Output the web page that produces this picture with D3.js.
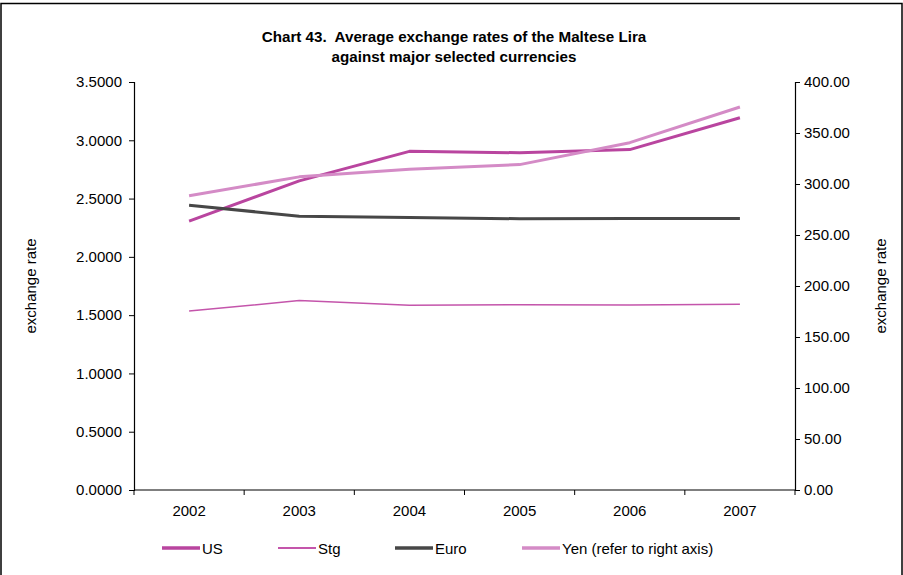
<!DOCTYPE html>
<html>
<head>
<meta charset="utf-8">
<script src="https://cdn.jsdelivr.net/npm/d3@7"></script>
<style>
  body { margin: 0; background: #fff; }
  svg { font-family: "Liberation Sans", Arial, sans-serif; }
</style>
</head>
<body>
<div id="chart"></div>
<script>
// chart values
const years = ["2002", "2003", "2004", "2005", "2006", "2007"];
const usRates = [2.307, 2.652, 2.905, 2.893, 2.920, 3.193];
const stgRates = [1.535, 1.625, 1.585, 1.590, 1.587, 1.593];
const euroRates = [2.443, 2.349, 2.337, 2.327, 2.330, 2.329];
const yenRates = [288.5, 307.0, 314.5, 319.0, 340.5, 375.5];
const leftTicks = [0, 0.5, 1, 1.5, 2, 2.5, 3, 3.5];
const rightTicks = [0, 50, 100, 150, 200, 250, 300, 350, 400];

const series = [
  { name: "US", values: usRates, axis: "left", color: "#b9459f", width: 3 },
  { name: "Stg", values: stgRates, axis: "left", color: "#c455ab", width: 1.5 },
  { name: "Euro", values: euroRates, axis: "left", color: "#474747", width: 3 },
  { name: "Yen (refer to right axis)", values: yenRates, axis: "right", color: "#d48bc6", width: 3 },
];

const config = {
  width: 903,
  height: 575,
  margin: { top: 82, right: 108, bottom: 85, left: 134 },
  fontSize: 15,
};
const innerW = config.width - config.margin.left - config.margin.right;
const innerH = config.height - config.margin.top - config.margin.bottom;

const svg = d3.select("#chart")
  .append("svg")
  .attr("width", config.width)
  .attr("height", config.height);

// outer frame
svg.append("rect")
  .attr("x", 1).attr("y", 3.5)
  .attr("width", 901).attr("height", 600)
  .attr("fill", "none")
  .attr("stroke", "#000")
  .attr("stroke-width", 1.5);

// title
const title = svg.append("text")
  .attr("text-anchor", "middle")
  .attr("font-size", 15.2)
  .attr("font-weight", "bold")
  .attr("fill", "#000")
  .style("white-space", "pre");
title.append("tspan").attr("x", 454).attr("y", 42)
  .text("Chart 43.  Average exchange rates of the Maltese Lira");
title.append("tspan").attr("x", 454).attr("y", 62)
  .text("against major selected currencies");

const chart = svg.append("g")
  .attr("transform", `translate(${config.margin.left},${config.margin.top})`);

const x = d3.scaleBand().domain(years).range([0, innerW]);
const yLeft = d3.scaleLinear().domain([0, 3.5]).range([innerH, 0]);
const yRight = d3.scaleLinear().domain([0, 400]).range([innerH, 0]);

// left axis
const leftAxis = chart.append("g")
  .call(d3.axisLeft(yLeft).tickValues(leftTicks).tickFormat(d3.format(".4f")).tickSize(5).tickPadding(7));

// right axis
const rightAxis = chart.append("g")
  .attr("transform", `translate(${innerW},0)`)
  .call(d3.axisRight(yRight).tickValues(rightTicks).tickFormat(d3.format(".2f")).tickSize(5).tickPadding(4));

// bottom axis: ticks on band edges
const bottomAxis = chart.append("g")
  .attr("transform", `translate(0,${innerH})`)
  .call(d3.axisBottom(x).tickSize(0).tickPadding(15));
bottomAxis.selectAll(".edge")
  .data(d3.range(years.length + 1))
  .join("line")
  .attr("class", "edge")
  .attr("x1", (i) => i * x.step())
  .attr("x2", (i) => i * x.step())
  .attr("y1", 0).attr("y2", 5)
  .attr("stroke", "#000");

[leftAxis, rightAxis, bottomAxis].forEach((a) => {
  a.select(".domain").attr("stroke", "#000").attr("stroke-width", 1.2);
  a.selectAll("text").attr("font-size", config.fontSize).attr("fill", "#000")
    .attr("font-family", "'Liberation Sans', Arial, sans-serif");
  a.selectAll(".tick line").attr("stroke", "#000");
});
bottomAxis.select(".domain").attr("d", `M0,0H${innerW}`);

// axis titles
svg.append("text")
  .attr("transform", `translate(36,${config.margin.top + innerH / 2}) rotate(-90)`)
  .attr("text-anchor", "middle")
  .attr("font-size", config.fontSize)
  .text("exchange rate");
svg.append("text")
  .attr("transform", `translate(886,${config.margin.top + innerH / 2}) rotate(-90)`)
  .attr("text-anchor", "middle")
  .attr("font-size", config.fontSize)
  .text("exchange rate");

// lines
series.forEach((s) => {
  const yScale = s.axis === "left" ? yLeft : yRight;
  const line = d3.line()
    .x((d, i) => x(years[i]) + x.bandwidth() / 2)
    .y((d) => yScale(d));
  chart.append("path")
    .datum(s.values)
    .attr("fill", "none")
    .attr("stroke", s.color)
    .attr("stroke-width", s.width)
    .attr("stroke-linejoin", "round")
    .attr("d", line);
});

// legend
const legendX = [162, 278, 395, 522];
const legend = svg.append("g").attr("transform", "translate(0,548)");
series.forEach((s, i) => {
  legend.append("line")
    .attr("x1", legendX[i]).attr("x2", legendX[i] + 38)
    .attr("y1", 0).attr("y2", 0)
    .attr("stroke", s.color)
    .attr("stroke-width", s.width === 3 ? 3.5 : 2);
  legend.append("text")
    .attr("x", legendX[i] + 40)
    .attr("y", 5.5)
    .attr("font-size", config.fontSize)
    .text(s.name);
});
</script>
</body>
</html>
